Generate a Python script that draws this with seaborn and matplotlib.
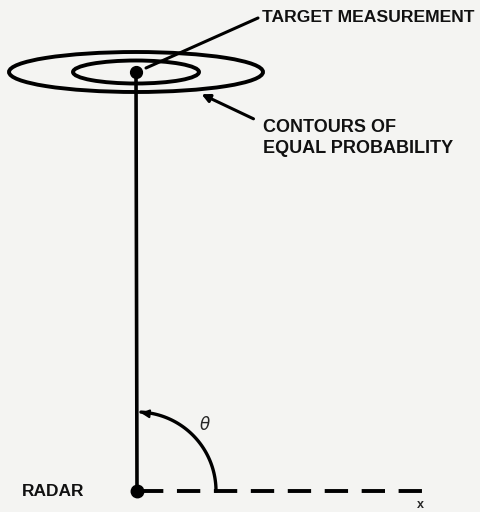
import numpy as np
import matplotlib
matplotlib.use("Agg")
import matplotlib.pyplot as plt
from matplotlib.patches import Ellipse, FancyArrowPatch
import seaborn as sns

# geometry (pixel units, y downward)
radar = (137, 491)
target = (136, 72)
ellipse_widths = [254, 126]
ellipse_heights = [40, 23]
baseline_x = [140, 425]
arc_radius = 79

labels = ["TARGET MEASUREMENT", "CONTOURS OF\nEQUAL PROBABILITY", "RADAR"]

sns.set_theme(style="white")
plt.rcParams['font.family'] = ['Liberation Sans', 'DejaVu Sans']

fig = plt.figure(figsize=(4.81, 5.12), dpi=100)
fig.patch.set_facecolor('#f4f4f2')
ax = fig.add_axes([0, 0, 1, 1])
ax.set_facecolor('#f4f4f2')
ax.set_xlim(0, 481)
ax.set_ylim(512, 0)
ax.axis('off')

# line of sight radar -> target
sns.lineplot(x=[radar[0], target[0]], y=[radar[1], target[1]], ax=ax,
             color='black', linewidth=2.6, sort=False)
# x axis (dashed)
ax.plot(baseline_x, [radar[1], radar[1]], color='black', linewidth=2.8,
        dashes=(6, 3.5))

# contours of equal probability
for w, h in zip(ellipse_widths, ellipse_heights):
    ax.add_patch(Ellipse(target, w, h, fill=False, edgecolor='black', linewidth=2.8))

# points
ax.plot(*radar, 'o', color='black', markersize=9)
ax.plot(*target, 'o', color='black', markersize=8.5)

# leader lines
ax.plot([146, 258], [68, 18], color='black', linewidth=2.2)
ax.add_patch(FancyArrowPatch((256, 120), (199, 93), arrowstyle='-|>',
                             mutation_scale=12, color='black', linewidth=2.2))

# theta arc
t = np.linspace(0, np.pi / 2 - 0.05, 60)
ax.plot(radar[0] + arc_radius * np.cos(t), radar[1] - arc_radius * np.sin(t),
        color='black', linewidth=2.4)
ax.add_patch(FancyArrowPatch((147, 413.5), (138, 412.5), arrowstyle='-|>',
                             mutation_scale=12, color='black', linewidth=1.5))

ax.text(262, 18, labels[0], fontsize=12.6, fontweight='bold', va='center',
        ha='left', color='#111111')
ax.text(263, 138, labels[1], fontsize=13, fontweight='bold', va='center',
        ha='left', linespacing=1.3, color='#111111')
ax.text(22, 492, labels[2], fontsize=12.5, fontweight='bold', va='center',
        ha='left', color='#111111')
ax.text(205, 424, r'$\theta$', fontsize=12, va='center', ha='center')
ax.text(420, 505, 'x', fontsize=9, va='center', ha='center', fontweight='bold')

fig.savefig('out.png', dpi=100, facecolor=fig.get_facecolor())
